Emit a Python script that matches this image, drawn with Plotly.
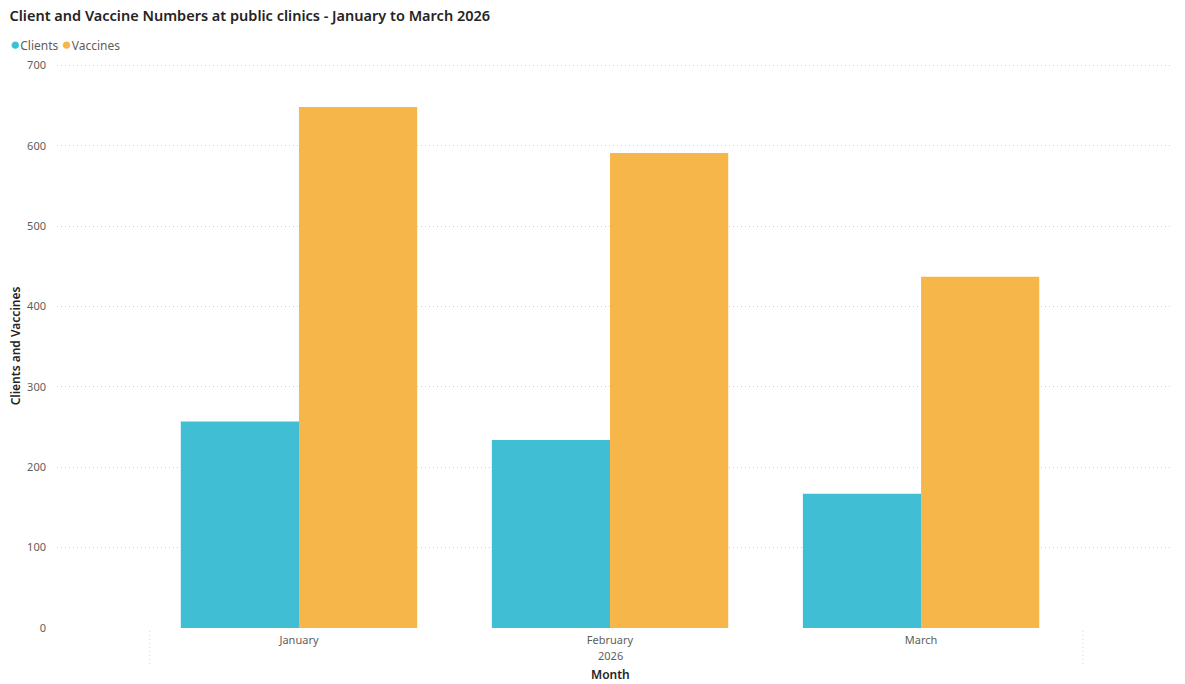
import plotly.graph_objects as go

months = ["January", "February", "March"]
year_label = "2026"
clients = [257, 234, 167]
vaccines = [648, 591, 437]
series_names = ["Clients", "Vaccines"]
colors = ["#40BFD4", "#F7B64A"]

title_text = "Client and Vaccine Numbers at public clinics - January to March 2026"
y_title = "Clients and Vaccines"
x_title = "Month"
y_ticks = [0, 100, 200, 300, 400, 500, 600, 700]

fig = go.Figure()
for name, vals, col in zip(series_names, [clients, vaccines], colors):
    fig.add_trace(go.Bar(
        x=months, y=vals, name=name, marker_color=col,
        marker_line_width=0, showlegend=False,
    ))

fig.update_layout(
    width=1185, height=684,
    margin=dict(l=57, r=12, t=64, b=56, autoexpand=False),
    paper_bgcolor="white", plot_bgcolor="white",
    barmode="group", bargap=0.24, bargroupgap=0,
    font=dict(family="Noto Sans, Segoe UI, sans-serif", color="#605E5C", size=11),
    title=dict(text=title_text, x=0.008, xanchor="left", y=0.977, yanchor="middle",
               font=dict(family="Noto Sans, sans-serif", size=14.5, color="#252423", weight=600)),
    showlegend=False,
)

fig.update_xaxes(
    range=[-0.778, 2.81], showgrid=False, zeroline=False, showline=False,
    ticks="", tickfont=dict(size=11, color="#605E5C"), ticklabelstandoff=4,
    automargin=False, fixedrange=True,
)
fig.update_yaxes(
    range=[0, 701.6], tickvals=y_ticks, showgrid=True, gridcolor="#D0D0D0",
    griddash="1px,3px", gridwidth=1, zeroline=False, showline=False,
    tickfont=dict(size=11, color="#605E5C"), ticklabelstandoff=10,
    automargin=False,
    title=dict(text=y_title, font=dict(size=12, color="#252423", weight=600), standoff=3),
)

# legend drawn as text with coloured circle glyphs
legend_text = "&nbsp;".join(
    f'<span style="color:{c};font-size:17px">●</span>{n}' for n, c in zip(series_names, colors)
)
fig.add_annotation(x=(8 - 57) / 1116, xref="paper", y=1 + (64 - 43) / 564, yref="paper",
                   text=legend_text, showarrow=False, xanchor="left", yanchor="middle",
                   font=dict(size=12, color="#605E5C"))

# year label and x title
fig.add_annotation(x=1, xref="x", y=-0.049, yref="paper", text=year_label,
                   showarrow=False, font=dict(size=11, color="#605E5C"), yanchor="middle")
fig.add_annotation(x=1, xref="x", y=-0.082, yref="paper", text=x_title,
                   showarrow=False, font=dict(size=12, color="#252423", weight=600), yanchor="middle")

# dotted hierarchy separators
for xv in [-0.48, 2.52]:
    fig.add_shape(type="line", xref="x", yref="paper", x0=xv, x1=xv, y0=-0.005, y1=-0.068,
                  line=dict(color="#D0D0D0", width=1, dash="1px,3px"))

fig.write_html("out.html")
